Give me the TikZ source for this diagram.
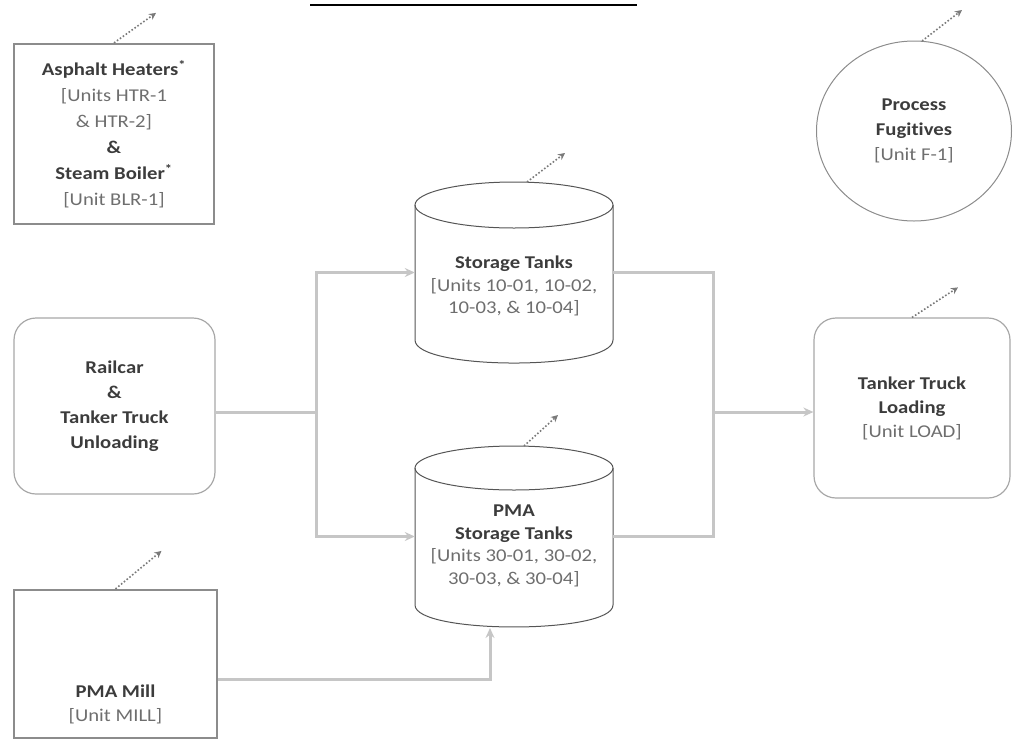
\documentclass[tikz,border=0pt]{standalone}
\usepackage{fontspec}
\setmainfont{Carlito}[FakeStretch=1.15, Ligatures={NoCommon}]
\usetikzlibrary{arrows.meta,shapes.geometric}
\definecolor{tb}{HTML}{3C3C3C}
\definecolor{tr}{HTML}{6E6E6E}
\definecolor{bx}{HTML}{8C8C8C}
\definecolor{rb}{HTML}{A8A8A8}
\definecolor{tk}{HTML}{555555}
\definecolor{fl}{HTML}{C6C6C6}
\definecolor{em}{HTML}{7A7A7A}
\begin{document}
\begin{tikzpicture}[x=1pt,y=-1pt,
  every node/.style={font=\fontsize{18}{24}\selectfont, align=center, text=tb, inner sep=0pt},
  sqbox/.style={draw=bx, line width=2.2pt},
  rbox/.style={draw=rb, line width=1.2pt, rounded corners=22pt},
  tank/.style={draw=tk, line width=1pt},
  flowline/.style={draw=fl, line width=3pt},
  flow/.style={flowline, -{Stealth[length=10pt,width=9pt]}},
  emis/.style={draw=em, line width=1.6pt, dotted, -{Stealth[length=7pt,width=7pt,fill=em]}}]
\useasboundingbox (0,0) rectangle (1013,740);

% title underline
\draw[line width=2.5pt] (310,5) -- (637,5);

% Asphalt heaters
\node[sqbox, minimum width=200, minimum height=180, font=\fontsize{18}{26}\selectfont] (ah) at (114,134)
  {\textbf{Asphalt Heaters\textsuperscript{*}}\\ {\color{tr}[Units HTR-1}\\ {\color{tr}\& HTR-2]}\\ \textbf{\&}\\ \textbf{Steam Boiler\textsuperscript{*}}\\ {\color{tr}[Unit BLR-1]}};

% Process fugitives
\node[ellipse, draw=bx, line width=1pt, minimum width=195, minimum height=180] (pf) at (914,131) {};
\node[font=\fontsize{18}{25}\selectfont] (pft) at (914,131) {\textbf{Process}\\ \textbf{Fugitives}\\ {\color{tr}[Unit F-1]}};

% Railcar unloading
\node[rbox, minimum width=201, minimum height=176, font=\fontsize{18}{25}\selectfont] (rc) at (114.5,406)
  {\textbf{Railcar}\\ \textbf{\&}\\ \textbf{Tanker Truck}\\ \textbf{Unloading}};

% Tanker truck loading
\node[rbox, minimum width=196, minimum height=180, font=\fontsize{18}{24}\selectfont] (tl) at (912,408)
  {\textbf{Tanker Truck}\\ \textbf{Loading}\\ {\color{tr}[Unit LOAD]}};

% PMA Mill
\node[sqbox, minimum width=203, minimum height=148] (pm) at (115.5,664) {};
\node[font=\fontsize{18}{24}\selectfont] (pmt) at (115.5,704) {\textbf{PMA Mill}\\ {\color{tr}[Unit MILL]}};

% Storage tanks (top)
\node[minimum width=198, minimum height=135] (st) at (514,272.5) {};
\draw[tank] (415,205) -- (415,340) .. controls (415,370.7) and (613,370.7) .. (613,340) -- (613,205);
\draw[tank] (514,205) ellipse[x radius=99, y radius=23];
\node[font=\fontsize{18}{22.5}\selectfont] (stt) at (514,286)
  {\textbf{Storage Tanks}\\ {\color{tr}[Units 10-01, 10-02,}\\ {\color{tr}10-03, \& 10-04]}};
\coordinate (stop) at (527,182);

% PMA storage tanks
\node[minimum width=198, minimum height=137] (pt) at (514,536.5) {};
\draw[tank] (415,468) -- (415,605) .. controls (415,634.3) and (613,634.3) .. (613,605) -- (613,468);
\draw[tank] (514,468) ellipse[x radius=99, y radius=22];
\node[font=\fontsize{18}{22.7}\selectfont] (ptt) at (514,546)
  {\textbf{PMA}\\ \textbf{Storage Tanks}\\ {\color{tr}[Units 30-01, 30-02,}\\ {\color{tr}30-03, \& 30-04]}};
\coordinate (ptop) at (524,446);
\coordinate (pbot) at (490,628);
\coordinate (pftop) at (922,41);

% junctions
\coordinate (j) at (316,412);
\coordinate (k) at (713,412);
\coordinate (m) at (490,679);

% flow connectors
\draw[flowline] (rc.east |- j) -- (j);
\draw[flow] (j) |- (st.west);
\draw[flow] (j) |- (pt.west);
\draw[flowline] (st.east) -| (k);
\draw[flowline] (pt.east) -| (k);
\draw[flow] (k) -- (tl.west |- k);
\draw[flow] (pm.east |- m) -- (m) -- (pbot);

% emission arrows
\draw[emis] (ah.north) -- ++(42,-30);
\draw[emis] (pftop) -- ++(40,-31);
\draw[emis] (stop) -- ++(38,-29);
\draw[emis] (ptop) -- ++(34,-31);
\draw[emis] (tl.north) -- ++(46,-30);
\draw[emis] (pm.north) -- ++(46,-38);
\end{tikzpicture}
\end{document}
